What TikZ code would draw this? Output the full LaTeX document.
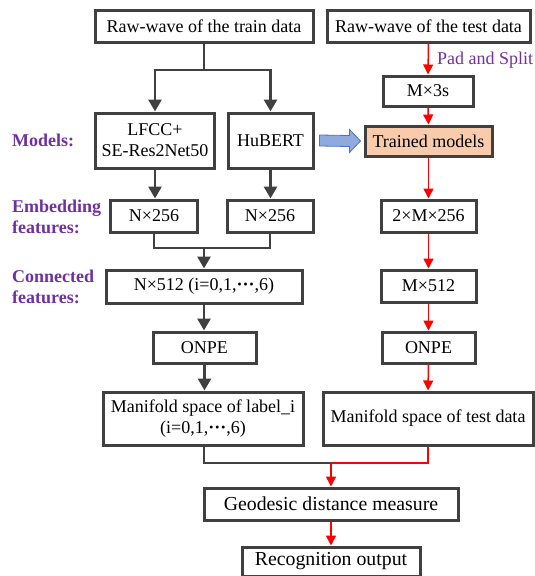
\documentclass[tikz,border=0pt]{standalone}
\usepackage{fontspec}
\setmainfont{Liberation Serif}
\usetikzlibrary{arrows.meta,calc}
\definecolor{boxline}{HTML}{404040}
\definecolor{lblpurple}{HTML}{7030A0}
\definecolor{peach}{HTML}{F8CBAD}
\definecolor{arrowblue}{HTML}{8FAADC}
\definecolor{arrowedge}{HTML}{4F72B8}
\newcommand{\mydots}{\textbf{···}}
\tikzset{
  box/.style={draw=boxline, line width=3pt, inner sep=0pt, align=center, font=\fontsize{18}{21}\selectfont},
  bigbox/.style={box, font=\fontsize{19.8}{23}\selectfont},
  darr/.style={draw=boxline, line width=2.8pt, -{Triangle[width=13pt,length=12pt]}},
  dline/.style={draw=boxline, line width=2.6pt},
  rarr/.style={draw=red, line width=1.5pt, -{Triangle[width=10pt,length=10pt]}},
  rline/.style={draw=red, line width=1.5pt},
  lbl/.style={text=lblpurple, font=\bfseries\fontsize{18}{21}\selectfont, align=left, anchor=west, inner sep=0pt},
}
\begin{document}
\begin{tikzpicture}[x=1pt,y=-1pt]
\useasboundingbox (0,0) rectangle (535,576);
% left column
\node[box, minimum width=218pt, minimum height=32pt] (trainraw) at (204,26) {Raw-wave of the train data};
\node[box, minimum width=203pt, minimum height=32pt] (testraw) at (428.5,26) {Raw-wave of the test data};
\node[box, minimum width=119pt, minimum height=55pt] (lfcc) at (155,140.5) {LFCC+\\SE-Res2Net50};
\node[box, minimum width=85pt, minimum height=55pt] (hubert) at (270.5,140.5) {HuBERT};
\node[box, minimum width=87pt, minimum height=32pt] (emb1) at (154,216) {N×256};
\node[box, minimum width=86pt, minimum height=32pt] (emb2) at (270,216) {N×256};
\node[box, minimum width=196pt, minimum height=33pt] (conn) at (204,286.5) {N×512 (i=0,1,\mydots,6)};
\node[box, minimum width=103pt, minimum height=31pt] (onpe1) at (204.5,347.5) {ONPE};
\node[box, minimum width=200pt, minimum height=53pt] (man1) at (203,418.5) {Manifold space of label\_i\\(i=0,1,\mydots,6)};
% right column
\node[box, minimum width=90pt, minimum height=30pt] (m3s) at (428,91) {M×3s};
\node[box, fill=peach, minimum width=127pt, minimum height=30pt] (trained) at (428.5,141) {Trained models};
\node[box, minimum width=95pt, minimum height=32pt] (m256) at (428.5,216) {2×M×256};
\node[box, minimum width=95pt, minimum height=32pt] (m512) at (428.5,286) {M×512};
\node[box, minimum width=93pt, minimum height=31pt] (onpe2) at (428.5,347.5) {ONPE};
\node[box, minimum width=210pt, minimum height=53pt] (man2) at (428,418.5) {Manifold space of test data};
% bottom
\node[bigbox, minimum width=254pt, minimum height=32pt] (geo) at (331,504) {Geodesic distance measure};
\node[bigbox, minimum width=178pt, minimum height=29pt] (rec) at (331,561.5) {Recognition output};
% labels
\node[lbl] (lmodels) at (12,140) {Models:};
\node[lbl] (lemb) at (12,217) {Embedding\\features:};
\node[lbl] (lconn) at (12,287) {Connected\\features:};
\node[text=lblpurple, font=\fontsize{18}{21}\selectfont, anchor=west, inner sep=0pt] (lpad) at (437,60) {Pad and Split};
% left connectors
\coordinate (split) at (204,70);
\draw[dline] (trainraw.south) -- (split);
\draw[darr] (split) -| (lfcc.north);
\draw[darr] (split) -| (hubert.north);
\draw[darr] (lfcc.south) -- (emb1.north -| lfcc.south);
\draw[darr] (hubert.south) -- (emb2.north -| hubert.south);
\coordinate (merge1) at (204,248);
\draw[dline] (emb1.south) |- (merge1) -| (emb2.south);
\draw[darr] (merge1) -- (conn.north);
\draw[darr] (conn.south) -- (onpe1.north -| conn.south);
\draw[darr] (onpe1.south) -- (man1.north -| onpe1.south);
% right connectors
\draw[rarr] (testraw.south) -- (m3s.north);
\draw[rarr] (m3s.south) -- (trained.north);
\draw[rarr] (trained.south) -- (m256.north);
\draw[rarr] (m256.south) -- (m512.north);
\draw[rarr] (m512.south) -- (onpe2.north);
\draw[rarr] (onpe2.south) -- (man2.north);
% merge bottom
\coordinate (merge2) at (331,463);
\draw[dline] (man1.south -| 204,0) |- (merge2);
\draw[rline] (man2.south) |- (merge2);
\draw[rarr] (merge2) -- (geo.north -| merge2);
\draw[rarr] (geo.south -| merge2) -- (rec.north -| merge2);
% block arrow
\path (hubert.east) ++(5,0) coordinate (ba0);
\path (trained.west) ++(-3,0) coordinate (ba1);
\draw[draw=arrowedge, fill=arrowblue, line width=0.8pt]
  ($(ba0)+(0,-5.5)$) -- ($(ba1)+(-11,-5.5)$) -- ($(ba1)+(-11,-11.5)$) -- (ba1)
  -- ($(ba1)+(-11,11.5)$) -- ($(ba1)+(-11,5.5)$) -- ($(ba0)+(0,5.5)$) -- cycle;
\end{tikzpicture}
\end{document}
